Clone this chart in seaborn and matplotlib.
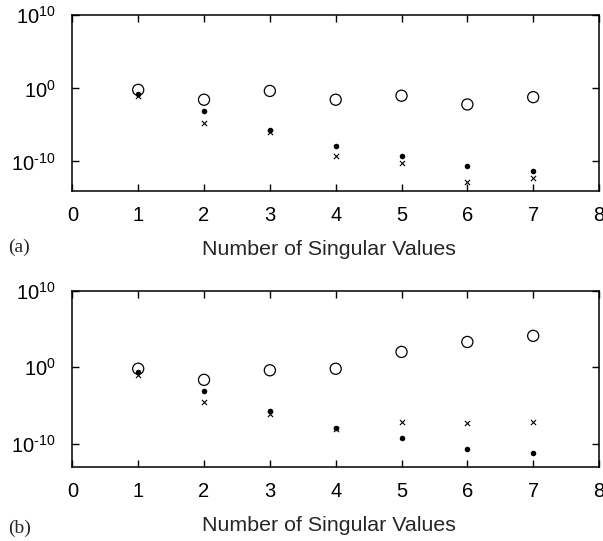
import numpy as np
import pandas as pd
import matplotlib
matplotlib.use("Agg")
import matplotlib.pyplot as plt
import seaborn as sns
from matplotlib.ticker import FixedLocator, NullLocator, FixedFormatter

# ---- data (log10 of values) ----
n_sv = [1, 2, 3, 4, 5, 6, 7]

a_circle_log = [-0.2, -1.55, -0.35, -1.55, -1.0, -2.2, -1.2]
a_dot_log = [-0.7, -3.05, -5.7, -7.85, -9.2, -10.6, -11.3]
a_cross_log = [-1.1, -4.7, -6.0, -9.3, -10.25, -12.8, -12.3]

b_circle_log = [-0.2, -1.65, -0.4, -0.2, 2.0, 3.3, 4.1]
b_dot_log = [-0.6, -3.1, -5.75, -8.0, -9.3, -10.75, -11.2]
b_cross_log = [-1.05, -4.6, -6.15, -8.1, -7.15, -7.35, -7.15]

ytick_vals = [1e-10, 1e0, 1e10]
ytick_labels = ["$10^{\u201010}$", "$10^{0}$", "$10^{10}$"]
xtick_vals = [0, 1, 2, 3, 4, 5, 6, 7, 8]
panel_labels = ["(a)", "(b)"]
xlabel = "Number of Singular Values"

sns.set_style("ticks")
plt.rcParams["font.family"] = ["Liberation Sans", "DejaVu Sans"]
plt.rcParams["mathtext.fontset"] = "custom"
plt.rcParams["mathtext.rm"] = "Liberation Sans"
plt.rcParams["mathtext.it"] = "Liberation Sans"
plt.rcParams["mathtext.bf"] = "Liberation Sans"

fig = plt.figure(figsize=(6.03, 5.41), dpi=100)
ax_a = fig.add_axes([0.12, 0.6475, 0.8734, 0.3242])
ax_b = fig.add_axes([0.12, 0.1373, 0.8734, 0.3254])

panels = [
    (ax_a, a_circle_log, a_dot_log, a_cross_log, 1e-14),
    (ax_b, b_circle_log, b_dot_log, b_cross_log, 1e-13),
]

for i, (ax, c, d, x, ylo) in enumerate(panels):
    df = pd.DataFrame({
        "n": n_sv,
        "circle": np.power(10.0, c),
        "dot": np.power(10.0, d),
        "cross": np.power(10.0, x),
    })
    sns.scatterplot(data=df, x="n", y="circle", ax=ax, marker="o", s=64,
                    facecolor="none", edgecolor="black", linewidth=0.9, zorder=3)
    sns.scatterplot(data=df, x="n", y="dot", ax=ax, marker="o", s=16,
                    color="black", edgecolor="black", linewidth=0, zorder=4)
    sns.scatterplot(data=df, x="n", y="cross", ax=ax, marker="x", s=14,
                    color="black", linewidth=0.8, zorder=4)
    ax.set_yscale("log")
    ax.set_xlim(0, 8)
    ax.set_ylim(ylo, 1e10)
    ax.yaxis.set_major_locator(FixedLocator(ytick_vals))
    ax.yaxis.set_major_formatter(FixedFormatter(ytick_labels))
    ax.yaxis.set_minor_locator(NullLocator())
    ax.set_xticks(xtick_vals)
    ax.set_xticklabels([str(v) for v in xtick_vals])
    ax.tick_params(direction="in", length=5, width=1, top=True, right=True,
                   labelsize=14.5, colors="black")
    ax.tick_params(axis="x", pad=11)
    ax.tick_params(axis="y", pad=12)
    for sp in ax.spines.values():
        sp.set_linewidth(1.1)
        sp.set_color("black")
    ax.set_xlabel(xlabel, fontsize=15.4, va="top")
    ax.xaxis.set_label_coords(0.488, -0.282)
    ax.set_ylabel("")
    ax.grid(False)

fig.text(8 / 603, 1 - 247.5 / 541, panel_labels[0], fontsize=14,
         family=["Liberation Serif"], va="center", ha="left")
fig.text(8 / 603, 1 - 528 / 541, panel_labels[1], fontsize=14,
         family=["Liberation Serif"], va="center", ha="left")

fig.savefig("out.png", dpi=100)
